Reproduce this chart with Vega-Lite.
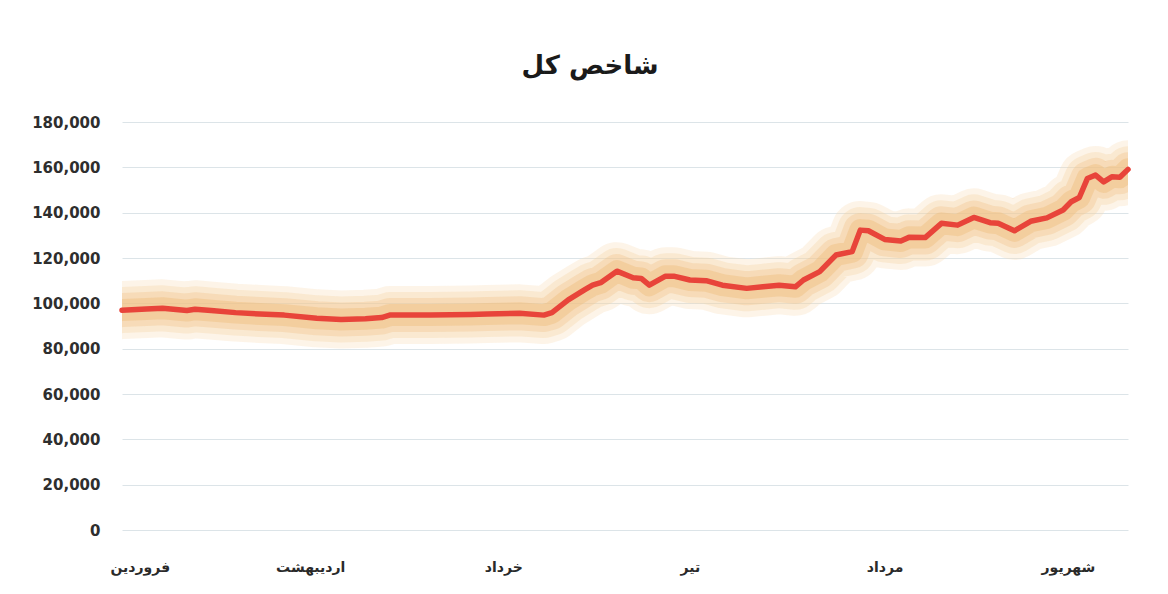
{
  "$schema": "https://vega.github.io/schema/vega-lite/v6.json",
  "autosize": "none",
  "width": 1006,
  "height": 408,
  "padding": {"left": 122, "top": 122, "right": 40, "bottom": 64},
  "background": "white",
  "title": {
    "text": "شاخص کل",
    "font": "DejaVu Sans",
    "fontSize": 26,
    "fontWeight": "bold",
    "color": "#1a1a1a",
    "anchor": "middle",
    "frame": "group",
    "dx": -35,
    "baseline": "bottom",
    "offset": 10
  },
  "data": {
    "values": [
      {"day": 0, "index": 97000},
      {"day": 3, "index": 97500},
      {"day": 5, "index": 97800},
      {"day": 8, "index": 96800},
      {"day": 9, "index": 97400},
      {"day": 11, "index": 96800},
      {"day": 14, "index": 95900},
      {"day": 17, "index": 95300},
      {"day": 20, "index": 94800},
      {"day": 24, "index": 93400},
      {"day": 27, "index": 92900},
      {"day": 30, "index": 93200},
      {"day": 32, "index": 93700},
      {"day": 33, "index": 94800},
      {"day": 36, "index": 94800},
      {"day": 38, "index": 94800},
      {"day": 43, "index": 95100},
      {"day": 45, "index": 95300},
      {"day": 49, "index": 95600},
      {"day": 52, "index": 94800},
      {"day": 53, "index": 95900},
      {"day": 55, "index": 101500},
      {"day": 57, "index": 105900},
      {"day": 58, "index": 108000},
      {"day": 59, "index": 109100},
      {"day": 61, "index": 114200},
      {"day": 63, "index": 111300},
      {"day": 64, "index": 111000},
      {"day": 65, "index": 108000},
      {"day": 67, "index": 112000},
      {"day": 68, "index": 112000},
      {"day": 70, "index": 110300},
      {"day": 72, "index": 110000},
      {"day": 74, "index": 108000},
      {"day": 77, "index": 106600},
      {"day": 79, "index": 107300},
      {"day": 81, "index": 108000},
      {"day": 83, "index": 107300},
      {"day": 84, "index": 110300},
      {"day": 86, "index": 114000},
      {"day": 88, "index": 121300},
      {"day": 90, "index": 122800},
      {"day": 91, "index": 132300},
      {"day": 92, "index": 132000},
      {"day": 94, "index": 128200},
      {"day": 96, "index": 127500},
      {"day": 97, "index": 129100},
      {"day": 99, "index": 129000},
      {"day": 101, "index": 135300},
      {"day": 103, "index": 134500},
      {"day": 105, "index": 137900},
      {"day": 107, "index": 135600},
      {"day": 108, "index": 135300},
      {"day": 110, "index": 132000},
      {"day": 112, "index": 136200},
      {"day": 114, "index": 137700},
      {"day": 116, "index": 141200},
      {"day": 117, "index": 144800},
      {"day": 118, "index": 146700},
      {"day": 119, "index": 155100},
      {"day": 120, "index": 156600},
      {"day": 121, "index": 153600},
      {"day": 122, "index": 155800},
      {"day": 123, "index": 155600},
      {"day": 124, "index": 159100}
    ]
  },
  "encoding": {
    "x": {
      "field": "day",
      "type": "quantitative",
      "scale": {"domain": [0, 124], "nice": false, "zero": false},
      "axis": {
        "title": null,
        "grid": false,
        "domain": false,
        "ticks": false,
        "values": [2.2, 23.2, 47, 70, 94, 116.6],
        "labelExpr": "datum.value < 10 ? 'فروردین' : datum.value < 30 ? 'اردیبهشت' : datum.value < 60 ? 'خرداد' : datum.value < 80 ? 'تیر' : datum.value < 100 ? 'مرداد' : 'شهریور'",
        "labelFont": "DejaVu Sans",
        "labelFontSize": 14,
        "labelFontWeight": "bold",
        "labelColor": "#2a2a2a",
        "labelPadding": 30,
        "labelFlush": false
      }
    },
    "y": {
      "field": "index",
      "type": "quantitative",
      "scale": {"domain": [0, 180000], "nice": false},
      "axis": {
        "title": null,
        "values": [0, 20000, 40000, 60000, 80000, 100000, 120000, 140000, 160000, 180000],
        "format": ",.0f",
        "grid": true,
        "gridColor": "#dce4e8",
        "gridWidth": 1,
        "domain": false,
        "ticks": false,
        "labelFont": "DejaVu Sans",
        "labelFontSize": 15,
        "labelFontWeight": "bold",
        "labelColor": "#2e2e2e",
        "labelPadding": 22
      }
    }
  },
  "layer": [
    {"mark": {"type": "line", "clip": true, "color": "#f8dcb4", "strokeWidth": 58, "opacity": 0.3, "strokeCap": "round", "strokeJoin": "round"}},
    {"mark": {"type": "line", "clip": true, "color": "#f5cf9c", "strokeWidth": 46, "opacity": 0.3, "strokeCap": "round", "strokeJoin": "round"}},
    {"mark": {"type": "line", "clip": true, "color": "#f1c489", "strokeWidth": 34, "opacity": 0.35, "strokeCap": "round", "strokeJoin": "round"}},
    {"mark": {"type": "line", "clip": true, "color": "#eebb78", "strokeWidth": 22, "opacity": 0.4, "strokeCap": "round", "strokeJoin": "round"}},
    {"mark": {"type": "line", "color": "#e8443a", "strokeWidth": 5.5, "strokeCap": "round", "strokeJoin": "round"}}
  ],
  "config": {"view": {"stroke": null}}
}
